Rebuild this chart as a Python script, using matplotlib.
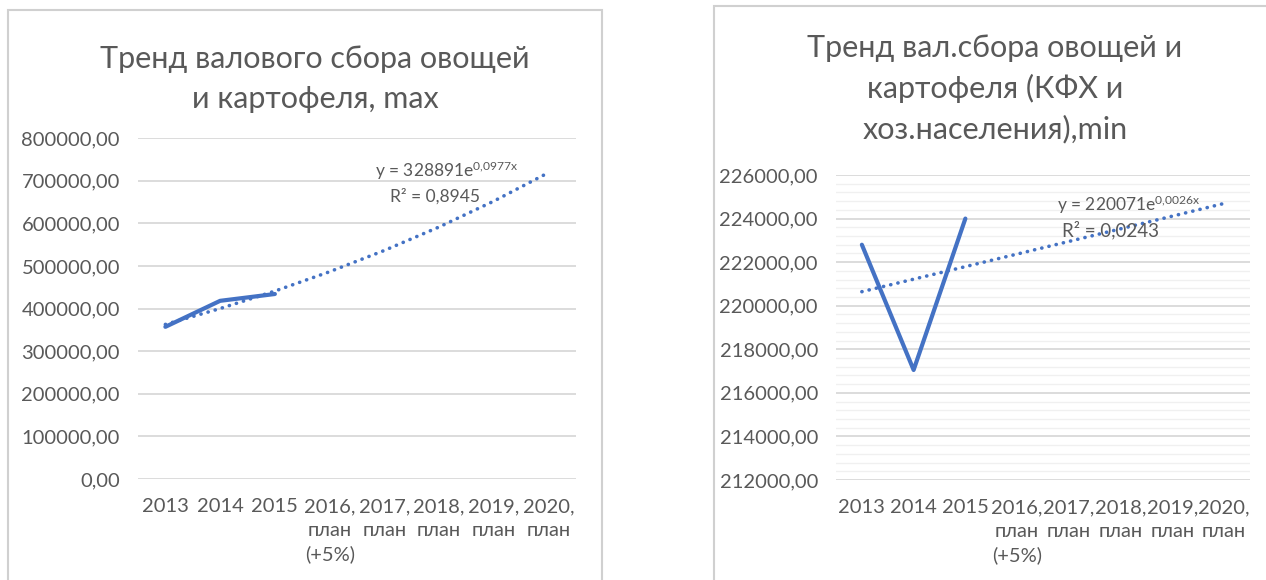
import matplotlib.pyplot as plt
import matplotlib.ticker as mticker
from matplotlib.patches import Rectangle

plt.rcParams['font.family'] = ['Lato', 'DejaVu Sans']
plt.rcParams['mathtext.fontset'] = 'custom'
plt.rcParams['mathtext.rm'] = 'Lato'
plt.rcParams['mathtext.it'] = 'Lato'

# Категории (общие для обоих графиков)
categories = ["2013", "2014", "2015", "2016,\nплан\n(+5%)", "2017,\nплан",
              "2018,\nплан", "2019,\nплан", "2020,\nплан"]

# Валовой сбор, max (фактические годы)
gross_max = [357000, 418000, 434000]
# Линия тренда (экспоненциальная), значения в точках категорий
trend_max = [362650, 399900, 440900, 486300, 536200, 591300, 652000, 718900]

# Валовой сбор КФХ и хоз. населения, min
gross_min = [222800, 217050, 224000]
trend_min = [220644, 221218, 221794, 222371, 222950, 223530, 224112, 224695]

line_color = "#4472C4"
text_color = "#595959"
grid_color = "#D9D9D9"
minor_color = "#F0F0F0"

fig = plt.figure(figsize=(12.66, 5.8), dpi=100)

# Рамки вокруг диаграмм
fig.patches.append(Rectangle((8 / 1266, -0.01), 594 / 1266, 1 - 10 / 580 + 0.01,
                             transform=fig.transFigure, fill=False,
                             edgecolor="#D0D0D0", linewidth=1.5))
fig.patches.append(Rectangle((714 / 1266, -0.01), 560 / 1266, 1 - 6 / 580 + 0.01,
                             transform=fig.transFigure, fill=False,
                             edgecolor="#D0D0D0", linewidth=1.5))


def comma_fmt(v, pos):
    return f"{v:.2f}".replace(".", ",")


def setup_axes(ax, ymin, ymax, step, minor=None):
    for s in ax.spines.values():
        s.set_visible(False)
    ax.set_xlim(-0.5, len(categories) - 0.5)
    ax.set_ylim(ymin, ymax)
    ax.set_yticks(range(ymin, ymax + 1, step))
    ax.yaxis.set_major_formatter(mticker.FuncFormatter(comma_fmt))
    if minor:
        ax.set_yticks(range(ymin, ymax + 1, minor), minor=True)
        ax.grid(True, which="minor", axis="y", color=minor_color, linewidth=1)
    ax.grid(True, which="major", axis="y", color=grid_color, linewidth=1.3)
    ax.set_axisbelow(True)
    ax.set_xticks(range(len(categories)))
    ax.set_xticklabels(categories, linespacing=1.45, va="top")
    ax.tick_params(axis="both", which="both", length=0, colors=text_color,
                   labelsize=14.5)
    ax.tick_params(axis="y", pad=13)
    ax.tick_params(axis="x", pad=14)


dotted = (0, (0.05, 2.0))

# Левый график
ax1 = fig.add_axes([138 / 1266, 1 - 479 / 580, 438 / 1266, 341 / 580])
setup_axes(ax1, 0, 800000, 100000)
ax1.plot(range(len(trend_max)), trend_max, color=line_color, linestyle=dotted,
         linewidth=2.6, dash_capstyle="round")
ax1.plot(range(len(gross_max)), gross_max, color=line_color, linewidth=3,
         solid_capstyle="round")
ax1.text(6.45, 722000, "y = 328891e$^{0{,}0977x}$", ha="right", va="center",
         color=text_color, fontsize=12.5)
ax1.text(5.75, 664000, "R² = 0,8945", ha="right", va="center",
         color=text_color, fontsize=12.5)
fig.text(315 / 1266, 1 - 79 / 580, "Тренд валового сбора овощей\nи картофеля, max",
         ha="center", va="center", fontsize=22, color=text_color, linespacing=1.55)

# Правый график
ax2 = fig.add_axes([836 / 1266, 1 - 480 / 580, 414 / 1266, 305 / 580])
setup_axes(ax2, 212000, 226000, 2000, minor=400)
ax2.plot(range(len(trend_min)), trend_min, color=line_color, linestyle=dotted,
         linewidth=2.6, dash_capstyle="round")
ax2.plot(range(len(gross_min)), gross_min, color=line_color, linewidth=3,
         solid_capstyle="round")
ax2.text(6.55, 224620, "y = 220071e$^{0{,}0026x}$", ha="right", va="center",
         color=text_color, fontsize=12.5)
ax2.text(5.75, 223450, "R² = 0,0243", ha="right", va="center",
         color=text_color, fontsize=13.5)
fig.text(995 / 1266, 1 - 89 / 580,
         "Тренд вал.сбора овощей и\nкартофеля (КФХ и\nхоз.населения),min",
         ha="center", va="center", fontsize=22, color=text_color, linespacing=1.5)

fig.savefig("out.png", dpi=100, facecolor="white")
